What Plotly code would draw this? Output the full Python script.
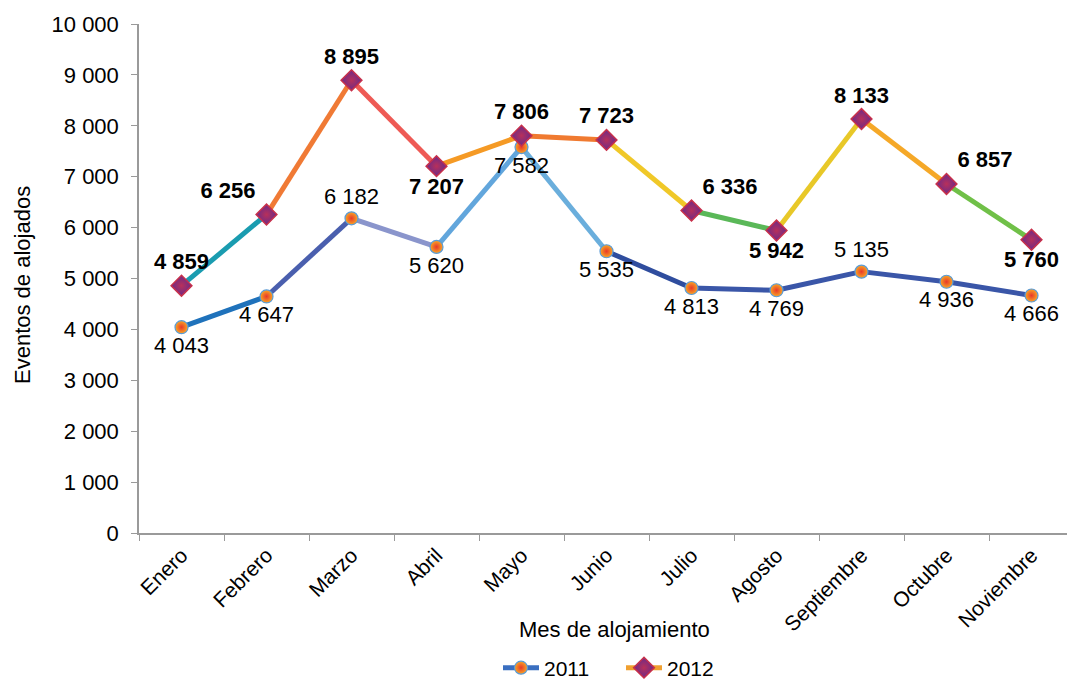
import plotly.graph_objects as go

months = ["Enero", "Febrero", "Marzo", "Abril", "Mayo", "Junio", "Julio",
          "Agosto", "Septiembre", "Octubre", "Noviembre"]
v2011 = [4043, 4647, 6182, 5620, 7582, 5535, 4813, 4769, 5135, 4936, 4666]
v2012 = [4859, 6256, 8895, 7207, 7806, 7723, 6336, 5942, 8133, 6857, 5760]

seg2011 = ["#1f72bb", "#4a5fae", "#8a95cc", "#62a6dc", "#6aaedc",
           "#2f4d9e", "#3a56a8", "#3a56a8", "#3a56a8", "#3a56a8"]
seg2012 = ["#1a9cb0", "#f07a35", "#ee5a55", "#f59a25", "#f07a30",
           "#f0c828", "#5ab858", "#e8c828", "#f5a828", "#70c048"]

pos2011 = ["bottom center", "bottom center", "top center", "bottom center", "bottom center",
           "bottom center", "bottom center", "bottom center", "top center", "bottom center",
           "bottom center"]
pos2012 = ["top center", "top left", "top center", "bottom center", "top center",
           "top center", "top right", "bottom center", "top center", "top right",
           "bottom center"]

FONT = "Liberation Sans, Arial, sans-serif"

# the page body adds an 8px margin; the figure is made a bit larger than the
# window so that the legend never pushes the plot margins
OFF = 8
W, H = 1075 - OFF, 695
L, R, T = 139 - OFF, 0, 24 - OFF
B = H - (533 - OFF)
PW, PH = W - L - R, H - T - B
CAT_PX = 85  # width of one category in the reference

fig = go.Figure()

def add_series(vals, colors, positions, marker, bold, name, legend_line):
    for i in range(len(vals) - 1):
        fig.add_trace(go.Scatter(
            x=months[i:i + 2], y=vals[i:i + 2], mode="lines",
            line=dict(color=colors[i], width=5), showlegend=False, hoverinfo="skip"))
    fig.add_trace(go.Scatter(
        x=months, y=vals, mode="markers+text", marker=marker,
        text=[f"{v:,}".replace(",", " ") for v in vals],
        texttemplate=("<b>%{text}</b>" if bold else "%{text}"),
        textposition=positions,
        textfont=dict(family=FONT, size=22, color="black"),
        showlegend=False, name=name))
    fig.add_trace(go.Scatter(
        x=[None], y=[None], mode="lines+markers", name=name,
        line=dict(color=legend_line, width=5), marker=marker))

add_series(v2011, seg2011, pos2011,
           dict(symbol="circle", size=13, color="#f9a825",
                gradient=dict(type="radial", color="#e8382a"),
                line=dict(color="#5b9bd5", width=1.2)),
           False, "2011", "#3a6fc0")
add_series(v2012, seg2012, pos2012,
           dict(symbol="diamond", size=16, color="#6a2a8a",
                gradient=dict(type="radial", color="#b8305a"),
                line=dict(color="#c8304a", width=1.5)),
           True, "2012", "#f0a030")

def px_x(sx):
    return (sx - OFF - L) / PW

def px_y(sy):
    return (H - B - (sy - OFF)) / PH

fig.update_layout(
    width=W, height=H,
    margin=dict(l=L, r=R, t=T, b=B),
    paper_bgcolor="white", plot_bgcolor="white",
    separators=". ",
    font=dict(family=FONT, size=21, color="black"),
    showlegend=True,
    legend=dict(orientation="h", x=px_x(498), xanchor="left", y=px_y(668), yanchor="middle",
                font=dict(family=FONT, size=21, color="black"),
                entrywidth=72, entrywidthmode="pixels", itemwidth=36, tracegroupgap=0),
    xaxis=dict(type="category", categoryorder="array", categoryarray=months,
               range=[-0.5, -0.5 + PW / CAT_PX],
               showline=True, linecolor="#9a9a9a", linewidth=1.5,
               ticks="outside", tickson="boundaries", ticklen=6, tickcolor="#9a9a9a",
               tickangle=-45, showgrid=False, zeroline=False, automargin=False,
               tickfont=dict(family=FONT, size=21, color="black")),
    yaxis=dict(range=[0, 10000], dtick=1000, tickformat=",d",
               showline=True, linecolor="#9a9a9a", linewidth=1.5,
               ticks="outside", ticklen=6, tickcolor="#9a9a9a", ticklabelstandoff=8,
               showgrid=False, zeroline=False, automargin=False,
               tickfont=dict(family=FONT, size=22, color="black")),
    annotations=[
        dict(text="Mes de alojamiento", xref="paper", yref="paper",
             x=px_x(614), y=px_y(629), xanchor="center", yanchor="middle",
             showarrow=False, font=dict(family=FONT, size=22, color="black")),
        dict(text="Eventos de alojados", xref="paper", yref="paper",
             x=px_x(22), y=px_y(285), xanchor="center", yanchor="middle",
             textangle=-90, showarrow=False, font=dict(family=FONT, size=22, color="black")),
    ],
)

fig.write_html("out.html")
